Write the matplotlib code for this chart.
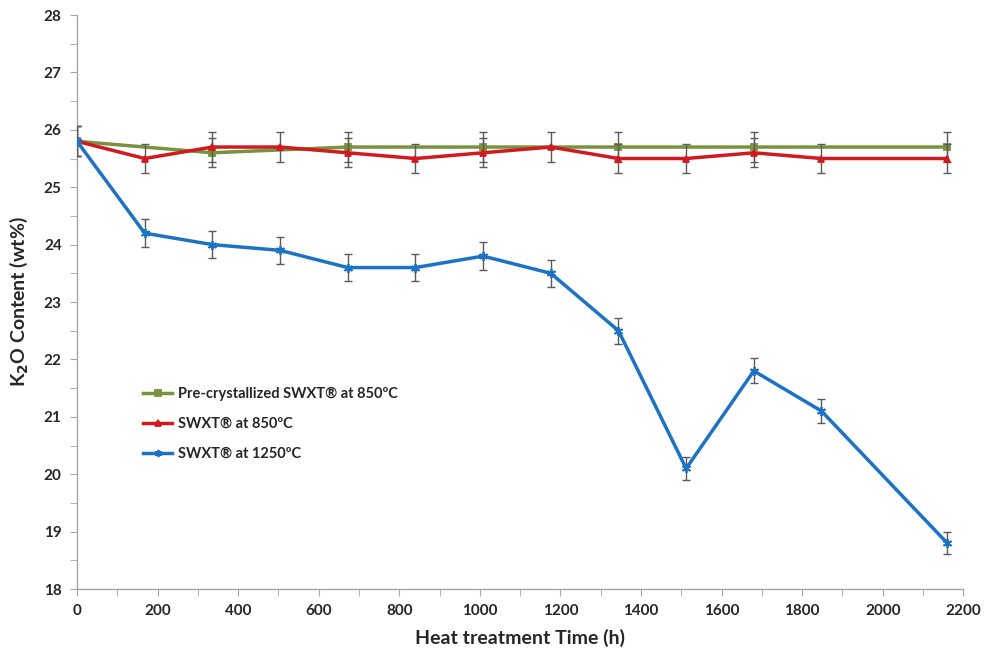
import matplotlib.pyplot as plt
from matplotlib.ticker import MultipleLocator

# heat treatment times (h) and K2O content (wt%)
time_pre = [0, 336, 672, 1008, 1344, 1680, 2160]
k2o_pre = [25.8, 25.6, 25.7, 25.7, 25.7, 25.7, 25.7]

time_swxt = [0, 168, 336, 504, 672, 840, 1008, 1176, 1344, 1512, 1680, 1848, 2160]
k2o_850 = [25.8, 25.5, 25.7, 25.7, 25.6, 25.5, 25.6, 25.7, 25.5, 25.5, 25.6, 25.5, 25.5]
k2o_1250 = [25.8, 24.2, 24.0, 23.9, 23.6, 23.6, 23.8, 23.5, 22.5, 20.1, 21.8, 21.1, 18.8]

labels = ["Pre-crystallized SWXT\u00ae at 850\u00baC",
          "SWXT\u00ae at 850\u00baC",
          "SWXT\u00ae at 1250\u00baC"]

# relative error of the measurements
rel_err = 0.01

plt.rcParams['font.family'] = ['Lato', 'DejaVu Sans']
plt.rcParams['font.weight'] = 'bold'

fig = plt.figure(figsize=(9.87, 6.53), dpi=100)
ax = fig.add_axes([0.078, 0.098, 0.898, 0.879])

series = [
    (time_pre, k2o_pre, "#77933C", "s", 5),
    (time_swxt, k2o_850, "#D11A1F", "^", 5),
    (time_swxt, k2o_1250, "#1C72C4", (6, 2, 0), 6.5),
]

for i, (x, y, color, marker, ms) in enumerate(series):
    err = [v * rel_err for v in y]
    ax.errorbar(x, y, yerr=err, fmt="none", ecolor="#5a5a5a",
                elinewidth=1, capsize=3, capthick=1, zorder=2 + i)
    ax.plot(x, y, color=color, lw=2.5, marker=marker, ms=ms,
            mec=color, mfc=color, mew=1.3, label=labels[i], zorder=3 + i)

ax.set_xlim(0, 2200)
ax.set_ylim(18, 28)
ax.xaxis.set_major_locator(MultipleLocator(200))
ax.xaxis.set_minor_locator(MultipleLocator(100))
ax.yaxis.set_major_locator(MultipleLocator(1))
ax.yaxis.set_minor_locator(MultipleLocator(0.5))

for side in ["top", "right"]:
    ax.spines[side].set_visible(False)
for side in ["left", "bottom"]:
    ax.spines[side].set_color("#a6a6a6")
    ax.spines[side].set_linewidth(1)

ax.tick_params(which="both", color="#a6a6a6", direction="out",
               labelsize=11, labelcolor="#262626", pad=6)
ax.tick_params(which="major", length=5)
ax.tick_params(which="minor", length=5)

ax.set_xlabel("Heat treatment Time (h)", fontsize=14, fontweight="bold",
              color="#262626", labelpad=8)
ax.set_ylabel("K$_\\mathbf{2}$O Content (wt%)", fontsize=14,
              fontweight="bold", color="#262626", labelpad=10)

leg = ax.legend(loc="upper left", bbox_to_anchor=(0.06, 0.375), frameon=False,
                fontsize=10.5, handlelength=2.0, labelspacing=1.1,
                handletextpad=0.4, markerscale=0.8)
for t in leg.get_texts():
    t.set_color("#262626")

fig.savefig("out.png", dpi=100)
